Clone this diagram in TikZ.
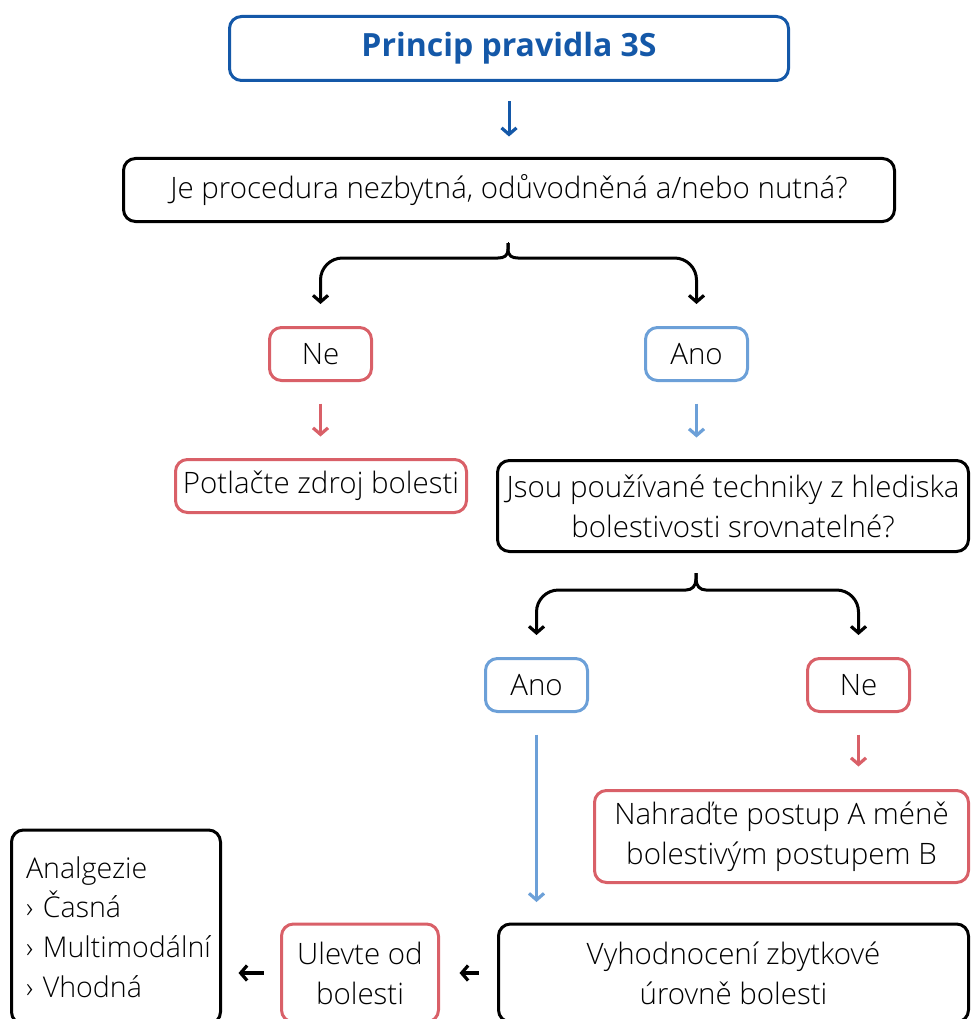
\documentclass[tikz,border=0pt]{standalone}
\usepackage{fontspec}
\setmainfont{Open Sans}[UprightFont=* Light, BoldFont=* Bold]
\usetikzlibrary{arrows.meta}
\definecolor{tblue}{RGB}{20,88,168}
\definecolor{lblue}{RGB}{108,160,216}
\definecolor{cred}{RGB}{217,96,104}
\begin{document}
\begin{tikzpicture}[x=1pt,y=-1pt,
  every node/.style={font=\fontsize{29.5}{40}\selectfont},
  box/.style={draw, line width=3pt, rounded corners=12pt, align=center, inner sep=0pt},
  tip/.style={-{Straight Barb[length=6.5pt,width=15pt,line width=3.2pt]}},
  conn/.style={line width=3pt, tip},
  brc/.style={line width=3pt, -{Straight Barb[length=6.5pt,width=15pt,line width=3.2pt]}, shorten >=22pt}]
\clip (0,0) rectangle (971,1019);
\useasboundingbox (0,0) rectangle (971,1019);
% nodes
\node[box, draw=tblue, text=tblue, font=\fontsize{32}{38}\selectfont\bfseries, minimum width=559pt, minimum height=64pt] (title) at (509,48.5) {Princip pravidla 3S};
\node[box, minimum width=771pt, minimum height=63pt] (q1) at (509,190) {Je procedura nezbytná, odůvodněná a/nebo nutná?};
\node[box, draw=cred, minimum width=102pt, minimum height=53pt] (ne1) at (320.5,354) {Ne};
\node[box, draw=lblue, minimum width=102pt, minimum height=53pt] (ano1) at (696.5,354) {Ano};
\node[box, draw=cred, minimum width=291pt, minimum height=53pt] (potl) at (321,486) {Potlačte zdroj bolesti};
\node[box, minimum width=471pt, minimum height=91pt] (jsou) at (733,506) {Jsou používané techniky z hlediska\\bolestivosti srovnatelné?};
\node[box, draw=lblue, minimum width=102pt, minimum height=53pt] (ano2) at (536.5,685) {Ano};
\node[box, draw=cred, minimum width=102pt, minimum height=53pt] (ne2) at (858.5,685) {Ne};
\node[box, draw=cred, minimum width=374pt, minimum height=92pt] (nahr) at (781.5,836.5) {Nahraďte postup A méně\\bolestivým postupem B};
\node[box, minimum width=470pt, minimum height=98pt] (vyh) at (733.5,973) {Vyhodnocení zbytkové\\úrovně bolesti};
\node[box, draw=cred, minimum width=157pt, minimum height=98pt] (ulev) at (360,973) {Ulevte od\\bolesti};
\node[box, align=left, text width=180pt, inner xsep=14.5pt, minimum height=194pt, font=\fontsize{28.6}{39.7}\selectfont] (anal) at (116,927) {\hyphenpenalty=10000 \exhyphenpenalty=10000 Analgezie\\›~Časná\\›~Multimodální\\›~Vhodná};
% coordinates for braces
\coordinate (b1) at (508,243);
\coordinate (b1h) at (508,258);
\coordinate (b2) at (696,573);
\coordinate (b2h) at (696,590);
% connectors
\draw[conn, tblue, shorten <=19.5pt, shorten >=20.5pt] (title.south) -- (title.south |- q1.north);
\draw[line width=3pt] (q1.south |- b1) -- (b1);
\draw[brc] (b1) -- ++(0,6) .. controls +(0,7) and +(6,0) .. ++(-10,9) [rounded corners=22pt] -- (b1h -| ne1.north) -- (ne1.north);
\draw[brc] (b1) -- ++(0,6) .. controls +(0,7) and +(-6,0) .. ++(10,9) [rounded corners=22pt] -- (b1h -| ano1.north) -- (ano1.north);
\draw[conn, cred, shorten <=21.5pt, shorten >=21.5pt] (ne1.south) -- (ne1.south |- potl.north);
\draw[conn, lblue, shorten <=21.5pt, shorten >=21.5pt] (ano1.south) -- (ano1.south |- jsou.north);
\draw[brc] (b2) -- ++(0,6) .. controls +(0,7) and +(6,0) .. ++(-10,11) [rounded corners=22pt] -- (b2h -| ano2.north) -- (ano2.north);
\draw[brc] (b2) -- ++(0,6) .. controls +(0,7) and +(-6,0) .. ++(10,11) [rounded corners=22pt] -- (b2h -| ne2.north) -- (ne2.north);
\draw[conn, lblue, shorten <=21.5pt, shorten >=20.5pt] (ano2.south) -- (ano2.south |- vyh.north);
\draw[conn, cred, shorten <=21.5pt, shorten >=22.5pt] (ne2.south) -- (ne2.south |- nahr.north);
\draw[conn, line width=3.5pt, shorten <=18.5pt, shorten >=19.5pt] (vyh.west) -- (ulev.east);
\draw[conn, line width=3.5pt, shorten <=16.5pt, shorten >=16.5pt] (ulev.west) -- (ulev.west -| anal.east);
\end{tikzpicture}
\end{document}
